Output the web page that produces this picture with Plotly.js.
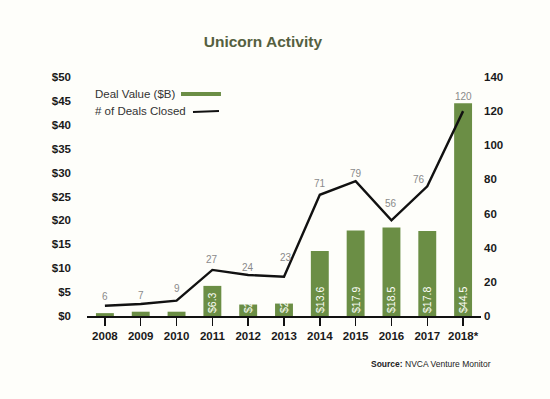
<!DOCTYPE html>
<html>
<head>
<meta charset="utf-8">
<script src="https://cdn.plot.ly/plotly-3.0.1.min.js"></script>
<style>
  html, body { margin: 0; padding: 0; background: #fefefa; }
  #chart { width: 550px; height: 399px; }
</style>
</head>
<body>
<div id="chart"></div>
<script>
// ---- data ----
const years = ['2008', '2009', '2010', '2011', '2012', '2013', '2014', '2015', '2016', '2017', '2018*'];
const dealValue = [0.6, 0.9, 0.9, 6.3, 2.4, 2.6, 13.6, 17.9, 18.5, 17.8, 44.5];
const dealsClosed = [6, 7, 9, 27, 24, 23, 71, 79, 56, 76, 120];
const leftTicks = [0, 5, 10, 15, 20, 25, 30, 35, 40, 45, 50];
const rightTicks = [0, 20, 40, 60, 80, 100, 120, 140];

// ---- styling ----
const green = '#6b8e45';
const bg = '#fefefa';
const FONT = 'Liberation Sans, Arial, sans-serif';
// label offsets (pixels) for the "# of deals" point labels
const labelDy = [9, 9, 12, 10, 8, 19, 11, 8, 17, 7, 15];
const labelDx = [0, 0, 0, 0, 0, 2, 0, 0, 0, -8, 0];

const barText = dealValue.map(v => v >= 1 ? '$' + v.toFixed(1) : '');

const traces = [
  {
    type: 'bar',
    name: 'Deal Value ($B)',
    x: years,
    y: dealValue,
    text: barText,
    textposition: 'inside',
    insidetextanchor: 'start',
    textangle: -90,
    constraintext: 'none',
    textfont: { family: FONT, size: 10.5, color: bg },
    marker: { color: green },
    width: 0.5,
    yaxis: 'y',
    hoverinfo: 'skip',
    showlegend: false
  },
  {
    type: 'scatter',
    mode: 'lines',
    name: '# of Deals Closed',
    x: years,
    y: dealsClosed,
    line: { color: '#111111', width: 2.4 },
    yaxis: 'y2',
    cliponaxis: false,
    hoverinfo: 'skip',
    showlegend: false
  }
];

const tickFont = { family: FONT, size: 11.5, color: '#1a1a1a', weight: 'bold' };

// point labels placed at category index on the category x axis
const pointLabels = years.map((yr, i) => ({
  xref: 'x', yref: 'y2', x: i, y: dealsClosed[i],
  text: String(dealsClosed[i]),
  showarrow: false, xanchor: 'center', yanchor: 'middle',
  yshift: labelDy[i], xshift: labelDx[i],
  font: { family: FONT, size: 10, color: '#8a8a8a' }
}));

const layout = {
  width: 550,
  height: 399,
  paper_bgcolor: bg,
  plot_bgcolor: bg,
  margin: { l: 87, r: 69, t: 77, b: 83 },
  title: {
    text: '<b>Unicorn Activity</b>',
    x: 0.478,
    xanchor: 'center',
    y: 0.895,
    yanchor: 'middle',
    font: { family: FONT, size: 15.5, color: '#55603f' }
  },
  xaxis: {
    type: 'category',
    categoryorder: 'array',
    categoryarray: years,
    range: [-0.5, years.length - 0.5],
    autorange: false,
    tickvals: years,
    ticktext: years,
    showgrid: false,
    zeroline: false,
    showline: true,
    linecolor: '#111111',
    linewidth: 2,
    ticks: 'outside',
    ticklen: 8,
    tickwidth: 1.5,
    tickcolor: '#111111',
    tickfont: tickFont,
    fixedrange: true
  },
  yaxis: {
    range: [0, 50],
    autorange: false,
    tickvals: leftTicks,
    ticktext: leftTicks.map(v => '$' + v),
    showgrid: false,
    zeroline: false,
    showline: false,
    ticks: '',
    ticklabelstandoff: 15,
    tickfont: tickFont,
    fixedrange: true
  },
  yaxis2: {
    range: [0, 140],
    autorange: false,
    tickvals: rightTicks,
    ticktext: rightTicks.map(String),
    overlaying: 'y',
    side: 'right',
    showgrid: false,
    zeroline: false,
    showline: false,
    ticks: '',
    ticklabelstandoff: 2,
    tickfont: tickFont,
    fixedrange: true
  },
  showlegend: false,
  annotations: pointLabels.concat([
    {
      xref: 'paper', yref: 'paper', x: 0.015, y: 0.929,
      xanchor: 'left', yanchor: 'middle', showarrow: false,
      text: 'Deal Value ($B)',
      font: { family: FONT, size: 11.5, color: '#333333' }
    },
    {
      xref: 'paper', yref: 'paper', x: 0.015, y: 0.858,
      xanchor: 'left', yanchor: 'middle', showarrow: false,
      text: '# of Deals Closed',
      font: { family: FONT, size: 11.5, color: '#333333' }
    },
    {
      xref: 'paper', yref: 'paper', x: 1.03, y: -0.2,
      xanchor: 'right', yanchor: 'middle', showarrow: false,
      text: '<b>Source:</b> NVCA Venture Monitor',
      font: { family: FONT, size: 8.5, color: '#222222' }
    }
  ]),
  shapes: [
    {
      type: 'line', xref: 'paper', yref: 'paper',
      x0: 0.2386, x1: 0.340, y0: 0.929, y1: 0.929,
      line: { color: green, width: 4 }
    },
    {
      type: 'line', xref: 'paper', yref: 'paper',
      x0: 0.269, x1: 0.335, y0: 0.854, y1: 0.858,
      line: { color: '#111111', width: 2 }
    }
  ]
};

Plotly.newPlot('chart', traces, layout, { displayModeBar: false, staticPlot: true });
</script>
</body>
</html>
